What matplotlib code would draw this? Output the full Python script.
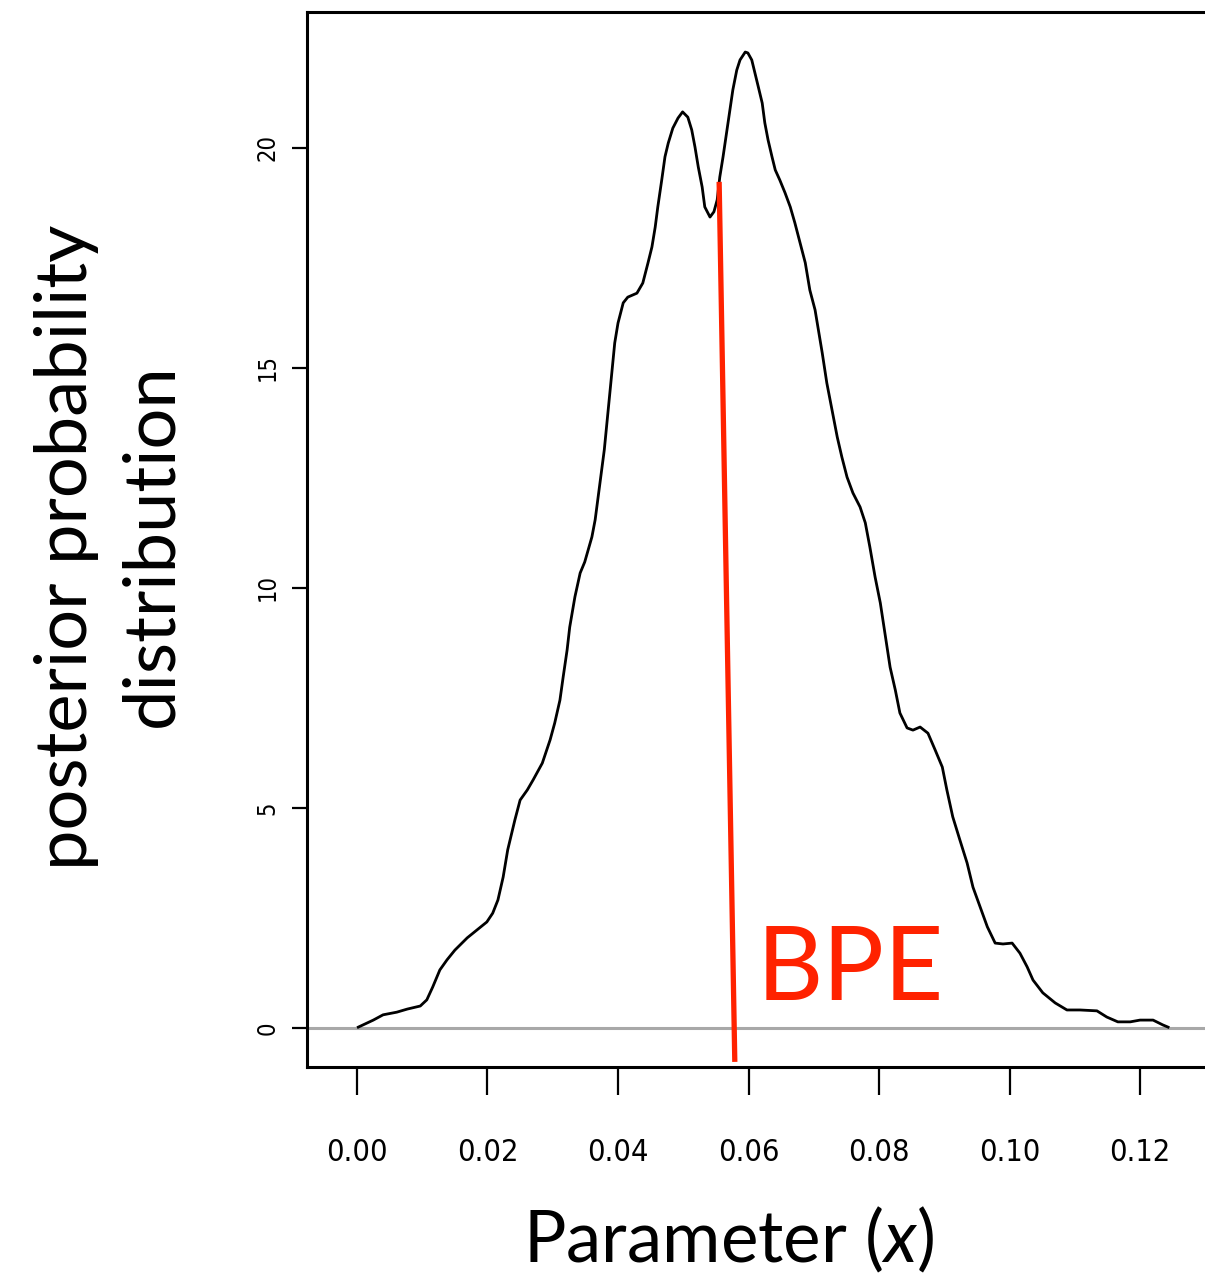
import matplotlib
matplotlib.use('Agg')
import matplotlib.pyplot as plt
import numpy as np

# ------------------------------------------------------------------
# ----------------- Posterior density --------
# ------------------------------------------------------------------
param_x = [0.0002, 0.0025, 0.0040, 0.0061, 0.0077, 0.0097, 0.0107, 0.0116, 0.0127, 0.0138,
           0.0150, 0.0169, 0.0184, 0.0199, 0.0208, 0.0216, 0.0224, 0.0231, 0.0242, 0.0250,
           0.0261, 0.0270, 0.0284, 0.0296, 0.0303, 0.0311, 0.0316, 0.0322, 0.0326, 0.0334,
           0.0342, 0.0349, 0.0360, 0.0365, 0.0369, 0.0379, 0.0388, 0.0395, 0.0400, 0.0408,
           0.0415, 0.0429, 0.0438, 0.0446, 0.0452, 0.0457, 0.0461, 0.0467, 0.0472, 0.0477,
           0.0484, 0.0492, 0.0499, 0.0507, 0.0513, 0.0518, 0.0523, 0.0529, 0.0533, 0.0541,
           0.0547, 0.0552, 0.0556, 0.0561, 0.0567, 0.0572, 0.0576, 0.0582, 0.0587, 0.0595,
           0.0599, 0.0605, 0.0610, 0.0615, 0.0621, 0.0625, 0.0630, 0.0636, 0.0641, 0.0648,
           0.0656, 0.0664, 0.0671, 0.0679, 0.0687, 0.0694, 0.0702, 0.0713, 0.0720, 0.0728,
           0.0736, 0.0743, 0.0751, 0.0760, 0.0771, 0.0779, 0.0786, 0.0794, 0.0802, 0.0809,
           0.0817, 0.0825, 0.0832, 0.0843, 0.0852, 0.0863, 0.0875, 0.0886, 0.0897, 0.0904,
           0.0913, 0.0924, 0.0935, 0.0944, 0.0955, 0.0966, 0.0978, 0.0990, 0.1004, 0.1016,
           0.1027, 0.1036, 0.1051, 0.1070, 0.1088, 0.1108, 0.1134, 0.1149, 0.1166, 0.1185,
           0.1200, 0.1220, 0.1235, 0.1243]
density = [0.02, 0.18, 0.30, 0.36, 0.43, 0.50, 0.64, 0.93, 1.32, 1.55,
           1.77, 2.05, 2.23, 2.41, 2.61, 2.91, 3.43, 4.05, 4.73, 5.18,
           5.41, 5.64, 6.02, 6.55, 6.93, 7.45, 7.98, 8.59, 9.11, 9.80,
           10.34, 10.59, 11.16, 11.55, 12.00, 13.14, 14.50, 15.57, 16.02, 16.48,
           16.61, 16.70, 16.93, 17.39, 17.75, 18.20, 18.66, 19.27, 19.80, 20.11,
           20.45, 20.68, 20.82, 20.70, 20.41, 20.02, 19.57, 19.11, 18.66, 18.43,
           18.55, 18.82, 19.34, 19.80, 20.41, 20.93, 21.32, 21.77, 22.00, 22.18,
           22.16, 22.00, 21.70, 21.39, 21.02, 20.57, 20.18, 19.80, 19.50, 19.27,
           18.98, 18.66, 18.30, 17.84, 17.39, 16.77, 16.32, 15.34, 14.66, 14.05,
           13.43, 12.98, 12.52, 12.16, 11.84, 11.48, 10.93, 10.25, 9.66, 8.98,
           8.20, 7.68, 7.16, 6.82, 6.77, 6.84, 6.70, 6.32, 5.93, 5.41,
           4.80, 4.27, 3.75, 3.20, 2.75, 2.30, 1.93, 1.91, 1.93, 1.70,
           1.39, 1.09, 0.80, 0.57, 0.41, 0.41, 0.39, 0.25, 0.14, 0.14,
           0.18, 0.18, 0.07, 0.02]

# BPE marker line (slightly tilted in the original)
bpe_x = [0.0555, 0.0579]
bpe_y = [19.23, -0.77]

xticks = [0.00, 0.02, 0.04, 0.06, 0.08, 0.10, 0.12]
xtick_labels = ['0.00', '0.02', '0.04', '0.06', '0.08', '0.10', '0.12']
yticks = [0, 5, 10, 15, 20]
ytick_labels = ['0', '5', '10', '15', '20']

# ------------------------------------------------------------------
# ----------------------------- Plot -------------------------------
# ------------------------------------------------------------------
plt.rcParams['mathtext.fontset'] = 'custom'
plt.rcParams['mathtext.rm'] = 'Lato'
plt.rcParams['mathtext.it'] = 'Lato:italic'

fig = plt.figure(figsize=(12.05, 12.74), dpi=100)
ax1 = fig.add_axes([307/1205, 1 - 1067/1274, (1212 - 307)/1205, (1067 - 12)/1274])
ax1.set_xlim([-0.00766, 0.13103])
ax1.set_ylim([-0.886, 23.09])
for axis in ['top', 'bottom', 'left', 'right']:  # thick R-style box
    ax1.spines[axis].set_linewidth(2.2)

ax1.axhline(0, color='#a8a8a8', lw=2.2, zorder=1)
ax1.plot(param_x, density, c='k', lw=2.0, zorder=2)
ax1.plot(bpe_x, bpe_y, c='#ff2200', lw=3.8, zorder=3, solid_capstyle='butt')
ax1.text(0.0613, 0.636, 'BPE', color='#ff2200', fontsize=74, family='Lato',
         ha='left', va='baseline')

# ------ Ticks ------
ax1.set_xticks(xticks)
ax1.set_xticklabels(xtick_labels, family='DejaVu Sans', stretch='condensed', fontsize=22)
ax1.tick_params(axis='x', length=20, width=1.6, pad=31)
ax1.set_yticks(yticks)
ax1.set_yticklabels(ytick_labels, family='DejaVu Sans', stretch='condensed', fontsize=17,
                    rotation=90, va='center')
ax1.tick_params(axis='y', length=11, width=1.6, pad=9)

# ------ Axis labels ------
fig.text(67/1205, 1 - 547/1274, 'posterior probability', rotation=90, fontsize=52,
         family='Lato', ha='center', va='center')
fig.text(152/1205, 1 - 545/1274, 'distribution', rotation=90, fontsize=52,
         family='Lato', ha='center', va='center')
fig.text(728/1205, 1 - 1240/1274, r'Parameter ($x$)', fontsize=51, family='Lato',
         ha='center', va='center')

plt.savefig('out.png', dpi=100)
